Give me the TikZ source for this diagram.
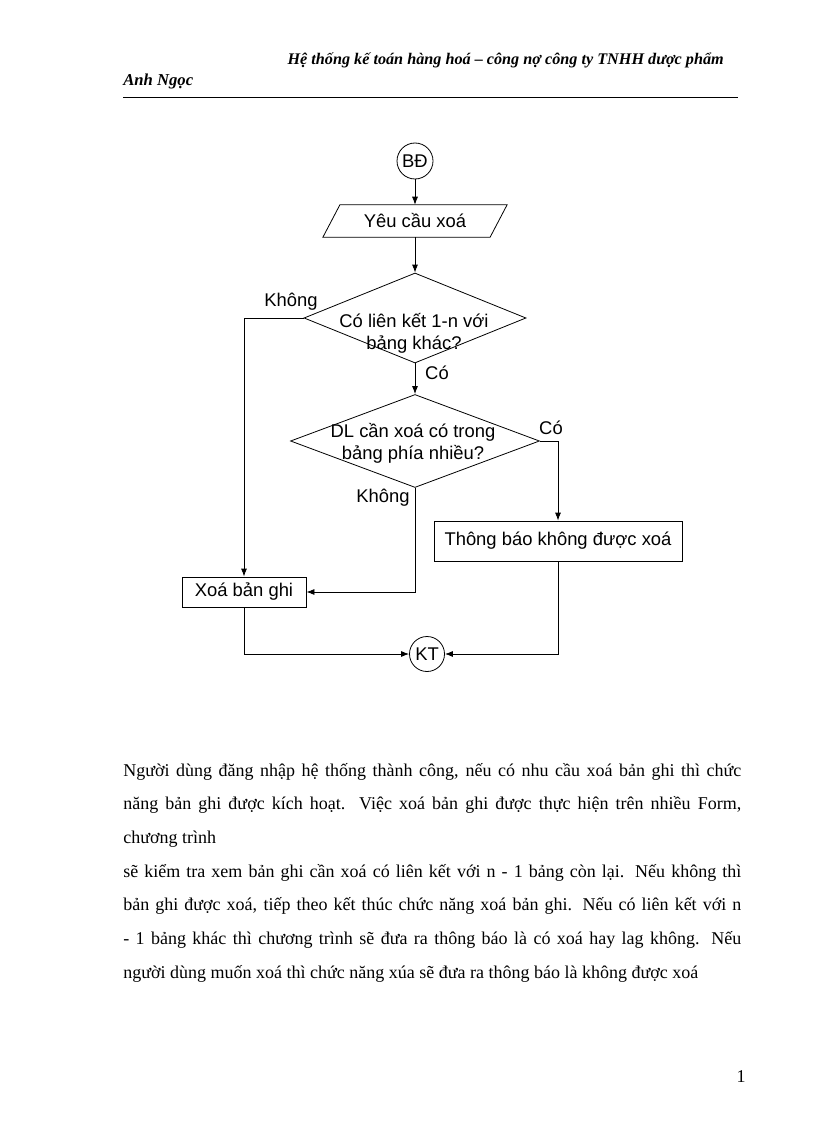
\documentclass[tikz,border=0pt]{standalone}
\usepackage{fontspec}
\setmainfont{Liberation Serif}
\newfontfamily\chartfont{Liberation Sans}
\usetikzlibrary{shapes.geometric,arrows.meta}

\begin{document}
\begin{tikzpicture}[x=0.75pt,y=-0.75pt,
    >={Latex[length=6pt,width=4.5pt]},
    chart/.style={font=\chartfont\fontsize{13.8}{16.5}\selectfont},
    flow/.style={draw, line width=0.6pt},
    term/.style={flow, chart, circle, minimum size=27pt, inner sep=0pt},
    box/.style={flow, chart, rectangle, inner sep=0pt},
    decision/.style={flow, diamond, inner sep=0pt},
    conn/.style={->, line width=0.6pt},
    page/.style={font=\fontsize{13.5}{25.3}\selectfont}]

\useasboundingbox (0,0) rectangle (816,1123);

% page header
\node[anchor=base east, font=\bfseries\itshape\fontsize{12.15}{15}\selectfont, inner sep=0pt] (hdr) at (724,65)
    {Hệ thống kế toán hàng hoá – công nợ công ty TNHH dược phẩm};
\node[anchor=base west, font=\bfseries\itshape\fontsize{12.5}{15}\selectfont, inner sep=0pt] (auth) at (123,86) {Anh Ngọc};
\draw[line width=0.5pt] (123,97) -- (738,97);

% flowchart
\node[term] (bd) at (415,161) {BĐ};
\node[chart, minimum width=125pt, minimum height=24pt, inner sep=0pt] (req) at (415,221) {Yêu cầu xoá};
\draw[flow] ([xshift=-6.4pt]req.south west) -- ([xshift=6.4pt]req.north west)
    -- ([xshift=6.4pt]req.north east) -- ([xshift=-6.4pt]req.south east) -- cycle;
\node[decision, minimum width=166.5pt, minimum height=67.5pt] (d1) at (415,318) {};
\node[chart, align=center, inner sep=0pt] (d1t) at (414,333) {Có liên kết 1-n với\\bảng khác?};
\node[decision, minimum width=186.75pt, minimum height=69.75pt] (d2) at (415,441) {};
\node[chart, align=center, inner sep=0pt] (d2t) at (413,443) {DL cần xoá có trong\\bảng phía nhiều?};
\node[box, minimum width=186pt, minimum height=30pt] (notice) at (558,541) {Thông báo không được xoá};
\node[box, minimum width=93pt, minimum height=22.5pt] (del) at (244,592) {Xoá bản ghi};
\node[term, minimum size=26.25pt] (kt) at (427,654) {KT};

% branch labels
\node[chart] (no1) at (291,302) {Không};
\node[chart] (yes1) at (437,373) {Có};
\node[chart] (yes2) at (551,428) {Có};
\node[chart] (no2) at (383,498) {Không};

\draw[conn] (bd) -- (req);
\draw[conn] (req) -- (d1);
\draw[conn] (d1.west) -| (del.north);
\draw[conn] (d1.south) -- (d2.north);
\draw[conn] (d2.east) -| (notice.north);
\draw[conn] (d2.south) |- (del.east);
\draw[conn] (del.south) |- (kt.west);
\draw[conn] (notice.south) |- (kt.east);

% text below the chart
\node[page, anchor=base west, text width=463.5pt, align=justify, inner sep=0pt] (body) at (123,776)
    {Người dùng đăng nhập hệ thống thành công, nếu có nhu cầu xoá bản ghi thì chức\linebreak
     năng bản ghi được kích hoạt. Việc xoá bản ghi được thực hiện trên nhiều Form,\linebreak
     chương trình\par
     sẽ kiểm tra xem bản ghi cần xoá có liên kết với n - 1 bảng còn lại. Nếu không thì\linebreak
     bản ghi được xoá, tiếp theo kết thúc chức năng xoá bản ghi. Nếu có liên kết với n\linebreak
     - 1 bảng khác thì chương trình sẽ đưa ra thông báo là có xoá hay lag không. Nếu\linebreak
     người dùng muốn xoá thì chức năng xúa sẽ đưa ra thông báo là không được xoá};

\node[page, anchor=base, inner sep=0pt] (pno) at (741,1082) {1};

\end{tikzpicture}
\end{document}
